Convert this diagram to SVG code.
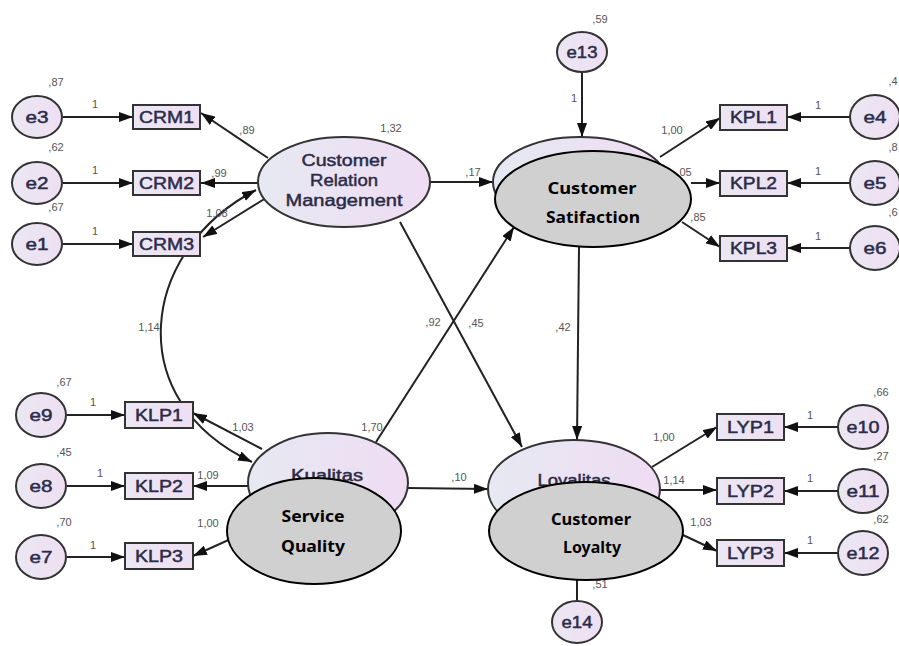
<svg xmlns="http://www.w3.org/2000/svg" width="899" height="646" viewBox="0 0 899 646">
<defs>
<marker id="ah" viewBox="0 0 14 10" refX="14" refY="5" markerWidth="14" markerHeight="10" orient="auto-start-reverse" markerUnits="userSpaceOnUse"><path d="M0,0 L14,5 L0,10 Z" fill="#111"/></marker>
<linearGradient id="lg" x1="0" y1="0" x2="1" y2="0"><stop offset="0" stop-color="#e6e9f2"/><stop offset="1" stop-color="#efdcf3"/></linearGradient>
<linearGradient id="sg" x1="0" y1="0" x2="1" y2="0"><stop offset="0" stop-color="#ebe7f3"/><stop offset="1" stop-color="#eedff2"/></linearGradient>
</defs>
<style>
.e{fill:url(#sg);stroke:#333;stroke-width:2}
.b{fill:url(#sg);stroke:#333;stroke-width:2}
.l{fill:url(#lg);stroke:#333;stroke-width:2}
.g{fill:#d0d0d0;stroke:#000;stroke-width:2}
.t{font-family:"Liberation Sans",Arial,sans-serif;font-size:16px;fill:#2b2b48;stroke:#2b2b48;stroke-width:0.45;text-anchor:middle}
.n{font-family:"Liberation Sans",Arial,sans-serif;font-size:11px;fill:#555;text-anchor:middle}
.k{font-family:"Noto Sans","Open Sans",sans-serif;font-size:16px;font-weight:bold;fill:#000;text-anchor:middle}
.c line,.c path{stroke:#222;stroke-width:2;fill:none;marker-end:url(#ah)}
</style>
<rect width="899" height="646" fill="#fff"/>

<g class="c" id="connectors">
<line x1="63" y1="117" x2="133" y2="117"/>
<line x1="63" y1="183" x2="133" y2="183"/>
<line x1="63" y1="244" x2="133" y2="244"/>
<line x1="268" y1="158" x2="201" y2="113"/>
<line x1="258" y1="183" x2="201" y2="183"/>
<line x1="266" y1="198" x2="203" y2="237"/>
<path d="M256,190 C140,250 120,400 252,462" style="marker-start:url(#ah)"/>
<line x1="430" y1="182" x2="493" y2="182"/>
<line x1="582" y1="73" x2="582" y2="137"/>
<line x1="660" y1="157" x2="720" y2="118"/>
<line x1="691" y1="183" x2="720" y2="183"/>
<line x1="682" y1="222" x2="720" y2="247"/>
<line x1="850" y1="117" x2="787" y2="117"/>
<line x1="850" y1="183" x2="787" y2="183"/>
<line x1="850" y1="248" x2="787" y2="248"/>
<line x1="400" y1="222" x2="522" y2="447"/>
<line x1="376" y1="442" x2="514" y2="227"/>
<line x1="579" y1="247" x2="577" y2="440"/>
<line x1="408" y1="488" x2="488" y2="489"/>
<line x1="262" y1="449" x2="193" y2="413"/>
<line x1="248" y1="486" x2="193" y2="486"/>
<line x1="262" y1="525" x2="193" y2="556"/>
<line x1="652" y1="467" x2="717" y2="427"/>
<line x1="660" y1="490" x2="717" y2="490"/>
<line x1="668" y1="528" x2="717" y2="551"/>
<line x1="838" y1="427" x2="784" y2="427"/>
<line x1="838" y1="491" x2="784" y2="491"/>
<line x1="838" y1="553" x2="784" y2="553"/>
<line x1="67" y1="415" x2="125" y2="415"/>
<line x1="67" y1="486" x2="125" y2="486"/>
<line x1="67" y1="557" x2="125" y2="557"/>
<line x1="577" y1="601" x2="577" y2="538"/>
</g>

<g id="edge-labels">
<text class="n" x="95" y="108">1</text>
<text class="n" x="95" y="174">1</text>
<text class="n" x="95" y="235">1</text>
<text class="n" x="247" y="134">,89</text>
<text class="n" x="219" y="177">,99</text>
<text class="n" x="217" y="217">1,08</text>
<text class="n" x="149" y="331">1,14</text>
<text class="n" x="473" y="176">,17</text>
<text class="n" x="574" y="102">1</text>
<text class="n" x="672" y="134">1,00</text>
<text class="n" x="684" y="176">,05</text>
<text class="n" x="698" y="221">,85</text>
<text class="n" x="818" y="109">1</text>
<text class="n" x="818" y="175">1</text>
<text class="n" x="818" y="240">1</text>
<text class="n" x="433" y="326">,92</text>
<text class="n" x="476" y="327">,45</text>
<text class="n" x="563" y="331">,42</text>
<text class="n" x="372" y="431">1,70</text>
<text class="n" x="459" y="481">,10</text>
<text class="n" x="243" y="431">1,03</text>
<text class="n" x="208" y="479">1,09</text>
<text class="n" x="208" y="527">1,00</text>
<text class="n" x="93" y="406">1</text>
<text class="n" x="100" y="477">1</text>
<text class="n" x="93" y="549">1</text>
<text class="n" x="664" y="441">1,00</text>
<text class="n" x="674" y="484">1,14</text>
<text class="n" x="701" y="526">1,03</text>
<text class="n" x="810" y="419">1</text>
<text class="n" x="810" y="482">1</text>
<text class="n" x="810" y="544">1</text>
</g>

<g id="e3"><ellipse class="e" cx="37" cy="117" rx="25" ry="21"/><text class="t" x="37" y="123" textLength="23" lengthAdjust="spacingAndGlyphs">e3</text><text class="n" x="56" y="86">,87</text></g>
<g id="e2"><ellipse class="e" cx="37" cy="183" rx="25" ry="21"/><text class="t" x="37" y="189" textLength="23" lengthAdjust="spacingAndGlyphs">e2</text><text class="n" x="56" y="151">,62</text></g>
<g id="e1"><ellipse class="e" cx="37" cy="244" rx="25" ry="21"/><text class="t" x="37" y="250" textLength="23" lengthAdjust="spacingAndGlyphs">e1</text><text class="n" x="56" y="211">,67</text></g>

<g id="CRM1"><rect class="b" x="133" y="105" width="67" height="24"/><text class="t" x="166.5" y="123" textLength="55" lengthAdjust="spacingAndGlyphs">CRM1</text></g>
<g id="CRM2"><rect class="b" x="133" y="171" width="67" height="24"/><text class="t" x="166.5" y="189" textLength="55" lengthAdjust="spacingAndGlyphs">CRM2</text></g>
<g id="CRM3"><rect class="b" x="133" y="232" width="67" height="24"/><text class="t" x="166.5" y="250" textLength="55" lengthAdjust="spacingAndGlyphs">CRM3</text></g>

<g id="CRM"><ellipse class="l" cx="344" cy="182" rx="86" ry="45"/>
<text class="t" x="344" y="166" textLength="85" lengthAdjust="spacingAndGlyphs">Customer</text>
<text class="t" x="344" y="186" textLength="68" lengthAdjust="spacingAndGlyphs">Relation</text>
<text class="t" x="344" y="206" textLength="117" lengthAdjust="spacingAndGlyphs">Management</text>
<text class="n" x="391" y="132">1,32</text></g>

<g id="e13"><ellipse class="e" cx="582" cy="52" rx="25" ry="20"/><text class="t" x="582" y="58" textLength="31" lengthAdjust="spacingAndGlyphs">e13</text><text class="n" x="600" y="23">,59</text></g>

<g id="KPL1"><rect class="b" x="720" y="105" width="67" height="25"/><text class="t" x="753.5" y="123" textLength="47" lengthAdjust="spacingAndGlyphs">KPL1</text></g>
<g id="KPL2"><rect class="b" x="720" y="171" width="67" height="25"/><text class="t" x="753.5" y="189" textLength="47" lengthAdjust="spacingAndGlyphs">KPL2</text></g>
<g id="KPL3"><rect class="b" x="720" y="236" width="67" height="25"/><text class="t" x="753.5" y="254" textLength="47" lengthAdjust="spacingAndGlyphs">KPL3</text></g>

<g id="e4"><ellipse class="e" cx="875" cy="117" rx="25" ry="22"/><text class="t" x="875" y="123" textLength="23" lengthAdjust="spacingAndGlyphs">e4</text><text class="n" x="893" y="85">,4</text></g>
<g id="e5"><ellipse class="e" cx="875" cy="183" rx="25" ry="22"/><text class="t" x="875" y="189" textLength="23" lengthAdjust="spacingAndGlyphs">e5</text><text class="n" x="893" y="151">,8</text></g>
<g id="e6"><ellipse class="e" cx="875" cy="248" rx="25" ry="22"/><text class="t" x="875" y="254" textLength="23" lengthAdjust="spacingAndGlyphs">e6</text><text class="n" x="893" y="216">,6</text></g>

<g id="Kepuasan"><ellipse class="l" cx="580" cy="182" rx="87" ry="45"/></g>
<g id="Kualitas"><ellipse class="l" cx="328" cy="483" rx="80" ry="50"/><text class="t" x="327" y="481" textLength="72" lengthAdjust="spacingAndGlyphs">Kualitas</text></g>
<g id="Loyalitas"><ellipse class="l" cx="574" cy="489" rx="86" ry="49"/><text class="t" x="574" y="486" textLength="73" lengthAdjust="spacingAndGlyphs">Loyalitas</text><text class="n" x="600" y="588">,51</text></g>

<g id="customer-satisfaction"><ellipse class="g" cx="593" cy="199" rx="98" ry="48"/>
<text class="k" x="592" y="194" textLength="89" lengthAdjust="spacingAndGlyphs">Customer</text>
<text class="k" x="593" y="223" textLength="94" lengthAdjust="spacingAndGlyphs">Satifaction</text></g>

<g id="service-quality"><ellipse class="g" cx="314" cy="531" rx="87" ry="53"/>
<text class="k" x="313" y="522" textLength="63" lengthAdjust="spacingAndGlyphs">Service</text>
<text class="k" x="313" y="552" textLength="64" lengthAdjust="spacingAndGlyphs">Quality</text></g>

<g id="customer-loyalty"><ellipse class="g" cx="586" cy="531" rx="97" ry="49"/>
<text class="k" x="591" y="525" textLength="80" lengthAdjust="spacingAndGlyphs">Customer</text>
<text class="k" x="592" y="553" textLength="58" lengthAdjust="spacingAndGlyphs">Loyalty</text></g>

<g id="e14"><ellipse class="e" cx="577" cy="622" rx="25" ry="21"/><text class="t" x="577" y="628" textLength="31" lengthAdjust="spacingAndGlyphs">e14</text></g>

<g id="LYP1"><rect class="b" x="717" y="414" width="67" height="26"/><text class="t" x="750.5" y="433" textLength="47" lengthAdjust="spacingAndGlyphs">LYP1</text></g>
<g id="LYP2"><rect class="b" x="717" y="478" width="67" height="26"/><text class="t" x="750.5" y="497" textLength="47" lengthAdjust="spacingAndGlyphs">LYP2</text></g>
<g id="LYP3"><rect class="b" x="717" y="540" width="67" height="26"/><text class="t" x="750.5" y="559" textLength="47" lengthAdjust="spacingAndGlyphs">LYP3</text></g>

<g id="e10"><ellipse class="e" cx="863" cy="427" rx="25" ry="22"/><text class="t" x="863" y="433" textLength="33" lengthAdjust="spacingAndGlyphs">e10</text><text class="n" x="881" y="396">,66</text></g>
<g id="e11"><ellipse class="e" cx="863" cy="491" rx="25" ry="22"/><text class="t" x="863" y="497" textLength="33" lengthAdjust="spacingAndGlyphs">e11</text><text class="n" x="881" y="460">,27</text></g>
<g id="e12"><ellipse class="e" cx="863" cy="553" rx="25" ry="22"/><text class="t" x="863" y="559" textLength="33" lengthAdjust="spacingAndGlyphs">e12</text><text class="n" x="881" y="523">,62</text></g>

<g id="KLP1"><rect class="b" x="125" y="402" width="68" height="26"/><text class="t" x="159" y="421" textLength="48" lengthAdjust="spacingAndGlyphs">KLP1</text></g>
<g id="KLP2"><rect class="b" x="125" y="473" width="68" height="26"/><text class="t" x="159" y="492" textLength="48" lengthAdjust="spacingAndGlyphs">KLP2</text></g>
<g id="KLP3"><rect class="b" x="125" y="543" width="68" height="26"/><text class="t" x="159" y="562" textLength="48" lengthAdjust="spacingAndGlyphs">KLP3</text></g>

<g id="e9"><ellipse class="e" cx="41" cy="415" rx="25" ry="22"/><text class="t" x="41" y="421" textLength="23" lengthAdjust="spacingAndGlyphs">e9</text><text class="n" x="64" y="386">,67</text></g>
<g id="e8"><ellipse class="e" cx="41" cy="486" rx="25" ry="22"/><text class="t" x="41" y="492" textLength="23" lengthAdjust="spacingAndGlyphs">e8</text><text class="n" x="64" y="456">,45</text></g>
<g id="e7"><ellipse class="e" cx="41" cy="557" rx="25" ry="22"/><text class="t" x="41" y="563" textLength="23" lengthAdjust="spacingAndGlyphs">e7</text><text class="n" x="64" y="526">,70</text></g>
</svg>
